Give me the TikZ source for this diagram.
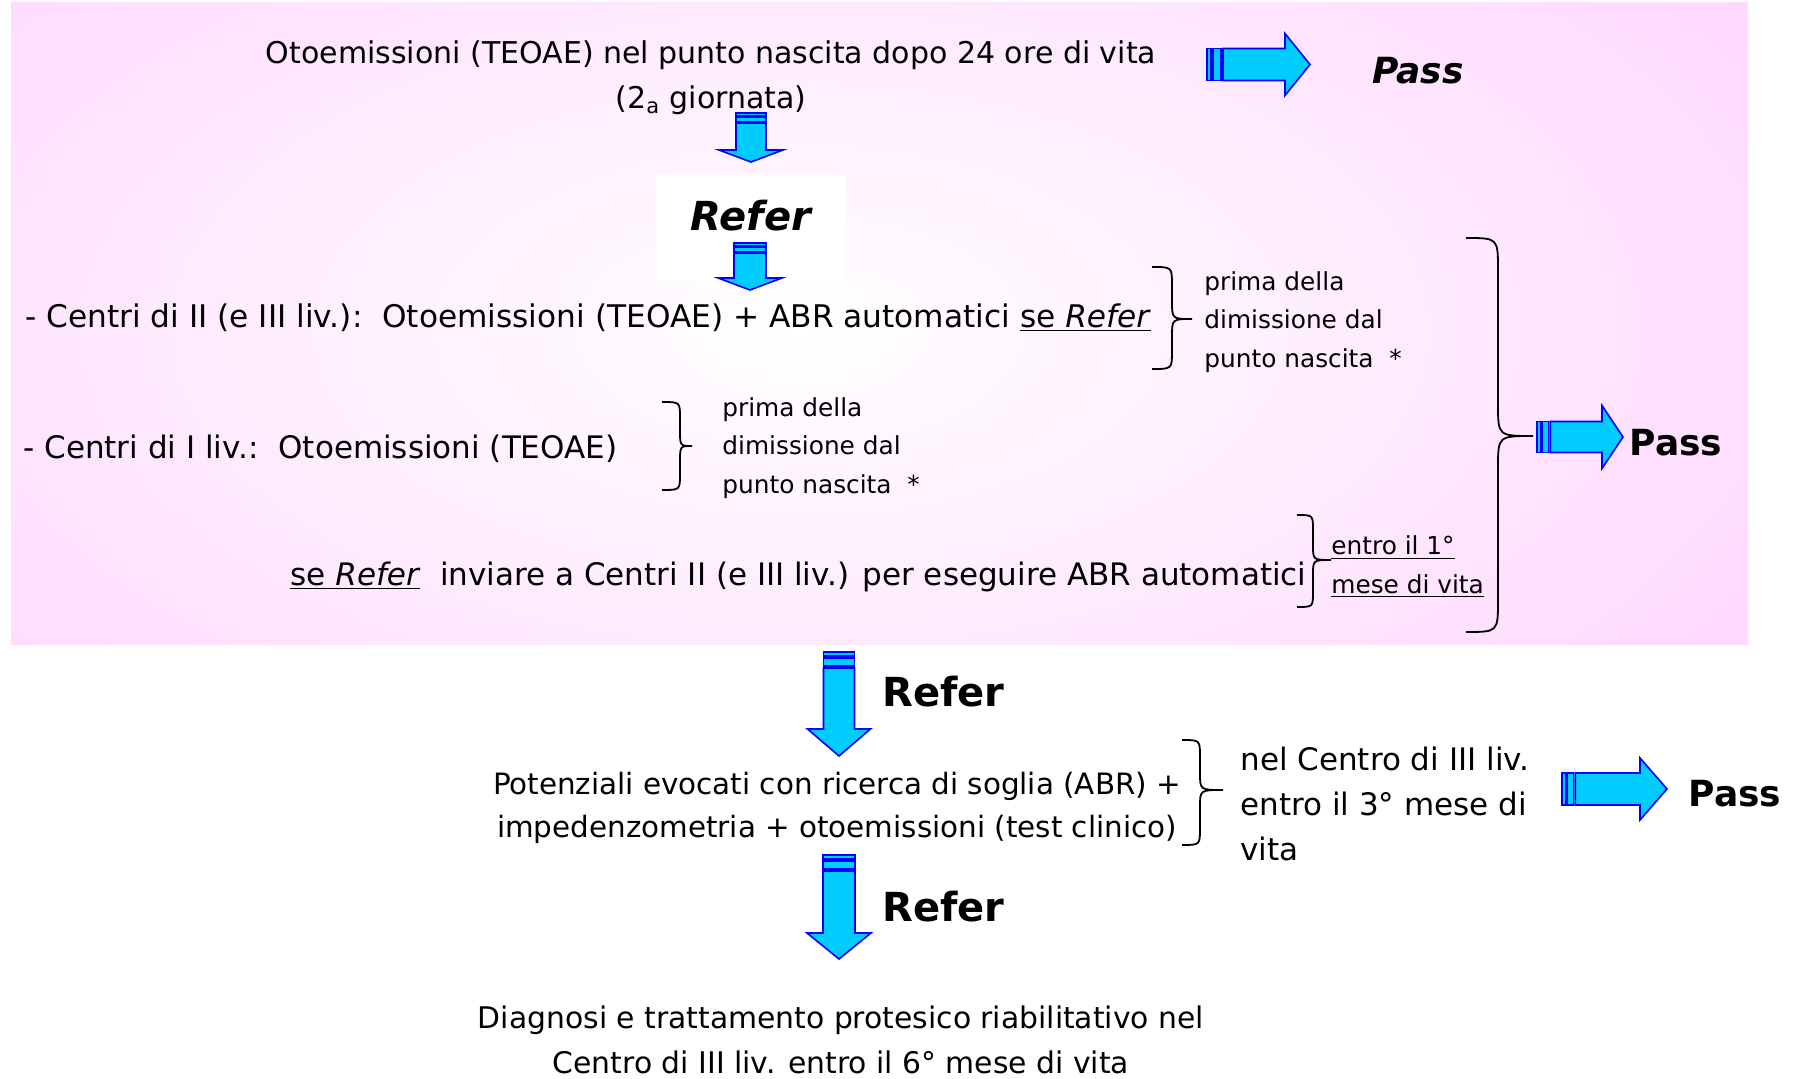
\documentclass[tikz,border=0pt]{standalone}
\usepackage{fontspec}
\setmainfont{DejaVu Sans}
\definecolor{pinkbg}{RGB}{255,204,255}
\definecolor{arrfill}{RGB}{0,204,255}
\definecolor{arrline}{RGB}{0,0,255}
% down block arrow: xc, y0, g, head start, tip, shaft half, head half
\newcommand{\DArrow}[7]{%
  \filldraw[blockarrow] ({#1-#6},{#2}) rectangle ({#1+#6},{#2+#3});
  \filldraw[blockarrow] ({#1-#6},{#2+1.5*#3}) rectangle ({#1+#6},{#2+3.5*#3});
  \filldraw[blockarrow] ({#1-#6},{#2+4*#3}) -- ({#1-#6},{#4}) -- ({#1-#7},{#4}) -- ({#1},{#5}) -- ({#1+#7},{#4}) -- ({#1+#6},{#4}) -- ({#1+#6},{#2+4*#3}) -- cycle;
}
% right block arrow: x0, yc, g, head start, tip, shaft half, head half
\newcommand{\RArrow}[7]{%
  \filldraw[blockarrow] ({#1},{#2-#6}) rectangle ({#1+#3},{#2+#6});
  \filldraw[blockarrow] ({#1+1.5*#3},{#2-#6}) rectangle ({#1+3.5*#3},{#2+#6});
  \filldraw[blockarrow] ({#1+4*#3},{#2-#6}) -- ({#4},{#2-#6}) -- ({#4},{#2-#7}) -- ({#5},{#2}) -- ({#4},{#2+#7}) -- ({#4},{#2+#6}) -- ({#1+4*#3},{#2+#6}) -- cycle;
}
% curly brace: x0, ytop, ybot, xm, xtip, ytip, r
\newcommand{\CBrace}[7]{%
  \draw[bracesty] (#1,#2) .. controls (#4,#2) .. (#4,{#2+#7}) -- (#4,{#6-#7}) .. controls (#4,#6) .. (#5,#6) .. controls (#4,#6) .. (#4,{#6+#7}) -- (#4,{#3-#7}) .. controls (#4,#3) .. (#1,#3);
}
\begin{document}
\begin{tikzpicture}[x=0.5pt,y=-0.5pt,
  txt/.style={font=\fontsize{15}{22.5}\selectfont, inner sep=0pt},
  small/.style={font=\fontsize{12.4}{19.4}\selectfont, inner sep=0pt, align=left},
  bigb/.style={font=\fontsize{20}{24}\selectfont\bfseries, inner sep=0pt},
  referi/.style={font=\fontsize{20}{24}\selectfont\bfseries\itshape, inner sep=0pt},
  passb/.style={font=\fontsize{18}{22}\selectfont\bfseries, inner sep=0pt},
  passi/.style={font=\fontsize{18}{22}\selectfont\bfseries\itshape, inner sep=0pt},
  blockarrow/.style={fill=arrfill, draw=arrline, line width=0.8pt, line join=miter},
  bracesty/.style={draw=black, line width=0.9pt}]
\useasboundingbox (0,0) rectangle (1796,1079);
\fill[white] (0,0) rectangle (1796,1079);
\begin{scope}
  \clip (11,3) rectangle (1748,645);
  \shade[inner color=white, outer color=pinkbg] (800,330) ellipse [x radius=750pt, y radius=380pt];
\end{scope}

% top section
\node[txt, align=center] (t1) at (711,78) {Otoemissioni (TEOAE) nel punto nascita dopo 24 ore di vita\\(2\textsubscript{a} giornata)};
\RArrow{1207}{64.5}{4}{1285}{1310}{16}{31}
\node[passi] (pass1) at (1418,71) {Pass};
\DArrow{751}{113}{2.5}{150}{162}{15}{32}
\node[fill=white, minimum width=94.5pt, minimum height=53pt, inner sep=0pt] (rbox) at (750.5,228) {};
\node[referi] (refer1) at (751,216) {Refer};
\DArrow{750}{243}{2.5}{278}{290}{16}{32}

% level II
\node[txt, anchor=west, font=\fontsize{15.6}{22.5}\selectfont] (c2) at (25,318) {- Centri di II (e III liv.):\ \ Otoemissioni (TEOAE) + ABR automatici \underline{se \textit{Refer}}};
\CBrace{1152}{267}{369}{1172}{1192}{319}{18}
\node[small, anchor=west] (b1t) at (1204,322) {prima della\\dimissione dal\\punto nascita\ \ *};

% level I
\node[txt, anchor=west, font=\fontsize{15.5}{22.5}\selectfont] (c1) at (23,449) {- Centri di I liv.:\ \ Otoemissioni (TEOAE)};
\CBrace{662}{402}{490}{680}{692}{446}{16}
\node[small, anchor=west] (b2t) at (722,448) {prima della\\dimissione dal\\punto nascita\ \ *};

\node[txt, anchor=west, font=\fontsize{15.5}{22.5}\selectfont] (c3) at (290,577) {\underline{se \textit{Refer}}\ \ inviare a Centri II (e III liv.) per eseguire ABR automatici};
\CBrace{1297}{515}{607}{1313}{1331}{560}{15}
\node[small, anchor=west] (b3t) at (1331,567) {\underline{entro il 1°}\\\underline{mese di vita}};

% big brace and pass
\CBrace{1466}{238}{632}{1498}{1533}{436}{32}
\RArrow{1537}{437}{3.3}{1602}{1623}{15.5}{31.5}
\node[passb] (pass2) at (1676,443) {Pass};

% lower section
\DArrow{839}{652}{4}{729}{756}{15.5}{31.5}
\node[bigb, anchor=west] (refer2) at (882,692) {Refer};
\node[txt, align=center, font=\fontsize{14.7}{21.5}\selectfont] (pot) at (837,808) {Potenziali evocati con ricerca di soglia (ABR) +\\impedenzometria + otoemissioni (test clinico)};
\CBrace{1182}{740}{845}{1200}{1223}{790}{17}
\node[txt, align=left, anchor=west, font=\fontsize{15.5}{22.5}\selectfont] (b4t) at (1240,804) {nel Centro di III liv.\\entro il 3° mese di\\vita};
\RArrow{1562}{789}{3.3}{1640}{1667}{16}{31}
\node[passb] (pass3) at (1735,794) {Pass};

\DArrow{839}{855}{4}{933}{959}{16}{32}
\node[bigb, anchor=west] (refer3) at (882,907) {Refer};
\node[txt, align=center, font=\fontsize{14.9}{22.5}\selectfont] (diag) at (841,1040) {Diagnosi e trattamento protesico riabilitativo nel\\Centro di III liv. entro il 6° mese di vita};
\end{tikzpicture}
\end{document}
